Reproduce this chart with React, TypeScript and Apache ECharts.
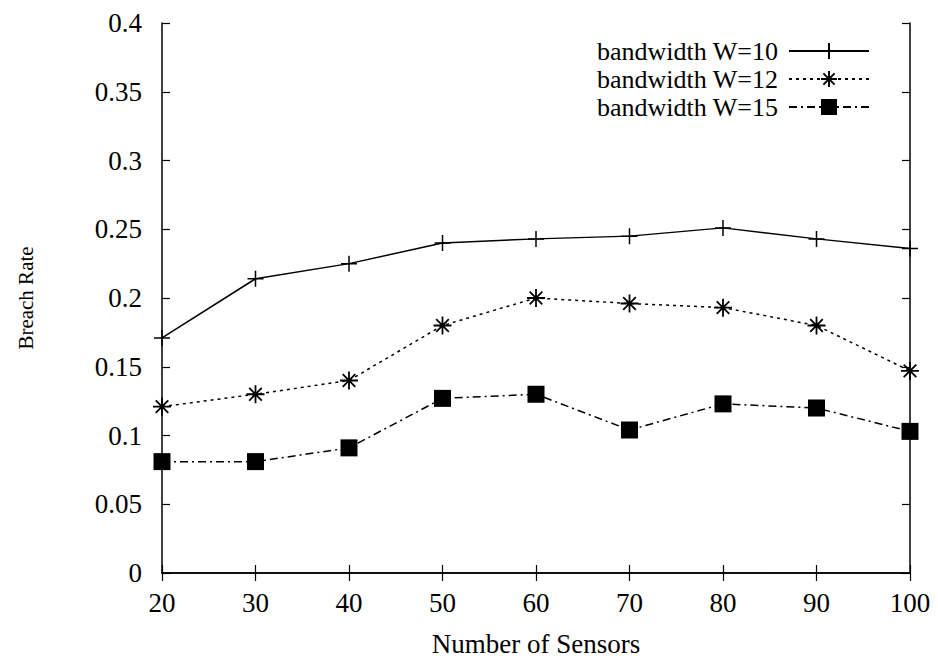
import React, { useEffect, useRef } from "react";
import * as echarts from "echarts";

const sensors = [20, 30, 40, 50, 60, 70, 80, 90, 100];
const w10 = [0.171, 0.214, 0.225, 0.24, 0.243, 0.245, 0.251, 0.243, 0.236];
const w12 = [0.121, 0.13, 0.14, 0.18, 0.2, 0.196, 0.193, 0.18, 0.147];
const w15 = [0.081, 0.081, 0.091, 0.127, 0.13, 0.104, 0.123, 0.12, 0.103];
const seriesNames = ["bandwidth W=10", "bandwidth W=12", "bandwidth W=15"];

const FONT = "Liberation Serif";
const plusSym = "path://M0,-1L0,1M-1,0L1,0";
const starSym = "path://M-1,0L1,0M0,-1L0,1M-0.7,-0.7L0.7,0.7M-0.7,0.7L0.7,-0.7";

export default function App() {
  const ref = useRef<HTMLDivElement>(null);
  useEffect(() => {
    const chart = echarts.init(ref.current!, null, { renderer: "svg" });
    const mk = (vals: number[]) => sensors.map((s, i) => [s, vals[i]]);
    const axisCommon = {
      axisLine: { show: true, lineStyle: { color: "#000", width: 1.5 } },
      axisTick: { show: true, inside: true, length: 8, lineStyle: { color: "#000", width: 1.2 } },
      splitLine: { show: false },
    };
    chart.setOption({
      animation: false,
      backgroundColor: "#fff",
      grid: { left: 162, top: 23, right: 28, bottom: 89 },
      legend: {
        top: 33,
        right: 63,
        orient: "vertical",
        align: "right",
        itemWidth: 80,
        itemHeight: 20,
        itemGap: 2,
        textStyle: { fontFamily: FONT, fontSize: 26, color: "#000", padding: [0, 6, 0, 0] },
        data: seriesNames,
      },
      xAxis: [
        {
          type: "value",
          min: 20,
          max: 100,
          interval: 10,
          name: "Number of Sensors",
          nameLocation: "middle",
          nameGap: 57,
          nameTextStyle: { fontFamily: FONT, fontSize: 27, color: "#000" },
          axisLabel: { fontFamily: FONT, fontSize: 27, color: "#000", margin: 16 },
          ...axisCommon,
        },
        {
          type: "value",
          position: "top",
          min: 20,
          max: 100,
          interval: 10,
          axisLabel: { show: false },
          ...axisCommon,
        },
      ],
      yAxis: [
        {
          type: "value",
          min: 0,
          max: 0.4,
          interval: 0.05,
          name: "Breach Rate",
          nameLocation: "middle",
          nameGap: 126,
          nameTextStyle: { fontFamily: FONT, fontSize: 21, color: "#000" },
          axisLabel: { fontFamily: FONT, fontSize: 27, color: "#000", margin: 20 },
          ...axisCommon,
        },
        {
          type: "value",
          position: "right",
          min: 0,
          max: 0.4,
          interval: 0.05,
          axisLabel: { show: false },
          ...axisCommon,
        },
      ],
      series: [
        {
          name: seriesNames[0],
          type: "line",
          data: mk(w10),
          symbol: plusSym,
          symbolSize: 16,
          lineStyle: { color: "#000", width: 1.5, type: "solid" },
          itemStyle: { color: "#000", borderColor: "#000", borderWidth: 1.5 },
        },
        {
          name: seriesNames[1],
          type: "line",
          data: mk(w12),
          symbol: starSym,
          symbolSize: 18,
          lineStyle: { color: "#000", width: 1.5, type: [3, 4] },
          itemStyle: { color: "#000", borderColor: "#000", borderWidth: 1.8 },
        },
        {
          name: seriesNames[2],
          type: "line",
          data: mk(w15),
          symbol: "rect",
          symbolSize: 17,
          lineStyle: { color: "#000", width: 1.5, type: [8, 4, 2, 4] },
          itemStyle: { color: "#000" },
        },
      ],
    });
    return () => chart.dispose();
  }, []);
  return <div ref={ref} style={{ width: 938, height: 662, position: "absolute", left: 0, top: 0 }} />;
}
